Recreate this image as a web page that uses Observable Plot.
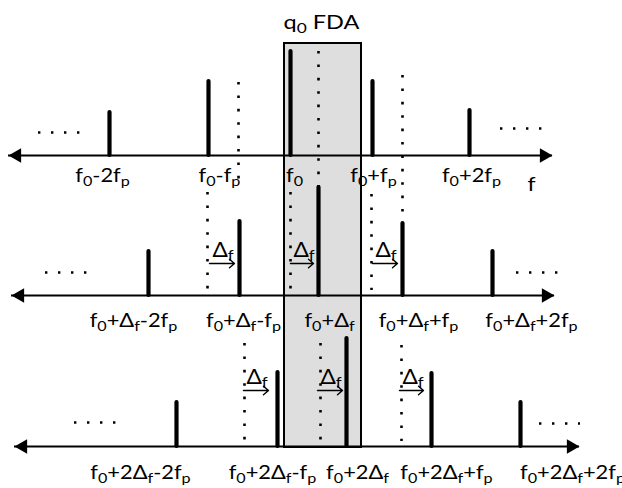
<!DOCTYPE html>
<html>
<head>
<meta charset="utf-8">
<script src="https://cdn.jsdelivr.net/npm/d3@7"></script>
<script src="https://cdn.jsdelivr.net/npm/@observablehq/plot@0.6"></script>
<style>
  html, body { margin: 0; padding: 0; background: #fff; }
  svg { display: block; }
</style>
</head>
<body>
<div id="chart"></div>
<script>
// ---- data (diagram units: x = frequency, y = vertical level, top-down) ----
const title = "q_0 FDA";
const rowAxis = [155, 295, 446];                 // level of each frequency axis
const axisStart = [8, 11, 14];                   // left arrow tip of each axis
const axisEnd = [552, 554, 579];                 // right arrow tip of each axis
const barFreq = [
  [109, 208, 290, 372, 469],
  [148, 239, 318, 402, 492],
  [176, 277, 346, 431, 520]
];
const barAmp = [
  [43, 74, 104, 74, 45],
  [44, 74, 108, 72, 44],
  [44, 74, 108, 73, 44]
];
const labelText = [
  ["f_0-2f_p", "f_0-f_p", "f_0", "f_0+f_p", "f_0+2f_p"],
  ["f_0+Δ_f-2f_p", "f_0+Δ_f-f_p", "f_0+Δ_f", "f_0+Δ_f+f_p", "f_0+Δ_f+2f_p"],
  ["f_0+2Δ_f-2f_p", "f_0+2Δ_f-f_p", "f_0+2Δ_f", "f_0+2Δ_f+f_p", "f_0+2Δ_f+2f_p"]
];
const labelFreq = [
  [102, 219, 294, 373, 471],
  [133, 243, 329, 418, 531],
  [140, 272, 357, 446, 572]
];
const labelLevel = [181, 326, 478];
// dotted guides: previous positions carried down
const guideFreq = [238, 318, 402, 207, 290, 371, 244, 320, 401];
const guideTop = [82, 51, 75, 192, 192, 194, 343, 343, 345];
const guideBottom = [183, 186, 214, 290, 290, 290, 441, 441, 441];
// Δf shift annotations
const shiftFrom = [209, 290, 372, 243, 317, 399];
const shiftTo = [234, 313, 397, 268, 342, 423];
const shiftLevel = [263, 263, 263, 390, 390, 390];
// ellipses "...." on both sides of each axis
const ellFrom = [38, 500, 45, 516, 74, 539];
const ellTo = [80, 542, 87, 558, 116, 580];
const ellLevel = [132, 128, 272, 272, 422, 423];
// FDA band
const band = {f1: 284, f2: 361, top: 43, bottom: 447};
const axisName = "f";

// ---- tables built from the arrays ----
const bars = barFreq.flatMap((r, i) => r.map((f, j) => ({f, base: rowAxis[i], top: rowAxis[i] - barAmp[i][j]})));
const labels = labelText.flatMap((r, i) => r.map((t, j) => ({t, f: labelFreq[i][j], y: labelLevel[i]})));
const axes = rowAxis.map((y, i) => ({y, x1: axisStart[i], x2: axisEnd[i]}));
const guides = guideFreq.map((f, i) => ({f, y1: guideTop[i], y2: guideBottom[i]}));
const shifts = shiftFrom.map((f, i) => ({x1: f, x2: shiftTo[i], y: shiftLevel[i]}));
const ells = ellFrom.map((f, i) => ({x1: f, x2: ellTo[i], y: ellLevel[i]}));

const FONT = "Lato, 'Open Sans', sans-serif";

const plot = Plot.plot({
  width: 622,
  height: 488,
  margin: 0,
  x: {domain: [0, 622], range: [0, 622], axis: null},
  y: {domain: [0, 488], range: [0, 488], axis: null},
  style: {fontFamily: FONT, background: "white", overflow: "visible"},
  marks: [
    Plot.rect([band], {x1: "f1", x2: "f2", y1: "top", y2: "bottom", fill: "#dedede", stroke: "black", strokeWidth: 2}),
    Plot.ruleX(guides, {x: "f", y1: "y1", y2: "y2", stroke: "black", strokeWidth: 2.6, strokeDasharray: "2.6,10.8"}),
    Plot.ruleY(ells, {y: "y", x1: "x1", x2: "x2", stroke: "black", strokeWidth: 2.4, strokeDasharray: "2.4,10.6"}),
    Plot.ruleY(axes, {y: "y", x1: "x1", x2: "x2", stroke: "black", strokeWidth: 2}),
    Plot.dot(axes, {x: "x2", y: "y", symbol: "triangle", r: 5.4, rotate: 90, dx: -8.4, fill: "black", stroke: "none"}),
    Plot.dot(axes, {x: "x1", y: "y", symbol: "triangle", r: 5.4, rotate: -90, dx: 8.4, fill: "black", stroke: "none"}),
    Plot.ruleX(bars, {x: "f", y1: "top", y2: "base", stroke: "black", strokeWidth: 4.2, strokeLinecap: "round"}),
    Plot.arrow(shifts, {x1: "x1", x2: "x2", y1: "y", y2: "y", stroke: "black", strokeWidth: 1.4, headLength: 7, headAngle: 80}),
    Plot.text(shifts, {x: "x1", y: "y", text: () => "Δ_f", dx: 3, dy: -7, textAnchor: "start", lineAnchor: "bottom", fontSize: 21, fill: "black"}),
    Plot.text(labels, {x: "f", y: "y", text: "t", fontSize: 19, textAnchor: "middle", lineAnchor: "bottom", fill: "black"}),
    Plot.text([axisName], {x: [531], y: [190], text: d => d, fontSize: 20, lineAnchor: "bottom", fill: "black"}),
    Plot.text([title], {x: [321], y: [28], text: d => d, fontSize: 18.5, lineAnchor: "bottom", fill: "black"})
  ]
});

// render "_x" as a subscript tspan, and widen glyphs like the reference
const ns = "http://www.w3.org/2000/svg";
const widen = {"21": 1.08, "19": 1.15, "20": 1.15, "18.5": 1.27};
plot.querySelectorAll("text").forEach(el => {
  const g = el.closest("g[font-size]");
  const k = widen[g ? g.getAttribute("font-size") : ""] || 1.15;
  const t = el.getAttribute("transform") || "";
  el.setAttribute("transform", t + ` scale(${k},1)`);
  const s = el.textContent;
  if (!s.includes("_")) return;
  el.textContent = "";
  let shifted = false;
  for (let i = 0; i < s.length; i++) {
    const ts = document.createElementNS(ns, "tspan");
    if (s[i] === "_" && i + 1 < s.length) {
      ts.textContent = s[i + 1];
      ts.setAttribute("font-size", "74%");
      ts.setAttribute("dy", "4");
      shifted = true;
      i++;
    } else {
      let j = i;
      let buf = "";
      while (j < s.length && s[j] !== "_") buf += s[j++];
      ts.textContent = buf;
      if (shifted) { ts.setAttribute("dy", "-4"); shifted = false; }
      i = j - 1;
    }
    el.appendChild(ts);
  }
});

document.getElementById("chart").appendChild(plot);
</script>
</body>
</html>
